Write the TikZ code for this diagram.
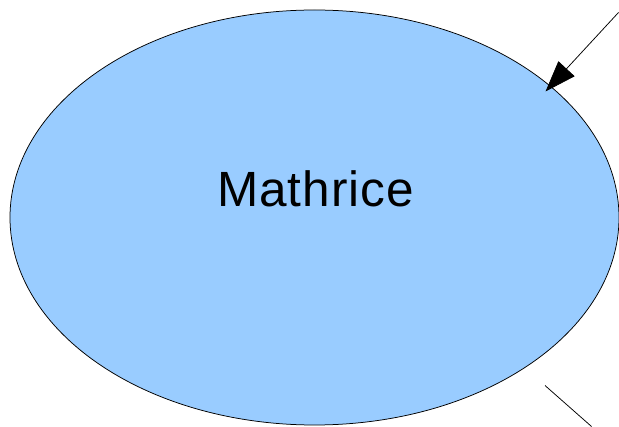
\documentclass[tikz,border=0pt]{standalone}
\usepackage{fontspec}
\setmainfont{Liberation Sans}
\usetikzlibrary{shapes.geometric,arrows.meta}

\definecolor{blob}{RGB}{153,204,255}
\tikzset{every picture/.style={line width=0.75pt}}

\begin{document}
\begin{tikzpicture}[x=1pt, y=-1pt]
\useasboundingbox (0,0) rectangle (619,427);

\pgfmathsetmacro{\cx}{314.5}      \pgfmathsetmacro{\cy}{217.5}

\node[ellipse, draw=black, fill=blob, minimum width=609pt, minimum height=415pt, inner sep=0pt] (mathrice) at (\cx,\cy) {};
    \node[font=\fontsize{49.5}{52}\selectfont\addfontfeature{LetterSpace=2}, anchor=base, inner sep=0pt] (title) at (315.5,206.5) {Mathrice};

\coordinate (inA) at (618.5,12.5);
    \coordinate (tipA) at (545.5,91.5);
    \coordinate (outA) at (545,385.5);
    \coordinate (outB) at (591.5,426.5);

\draw[-{Triangle[length=31pt, width=22pt]}] (inA) -- (tipA);
    \draw (outA) -- (outB);

\end{tikzpicture}
\end{document}
